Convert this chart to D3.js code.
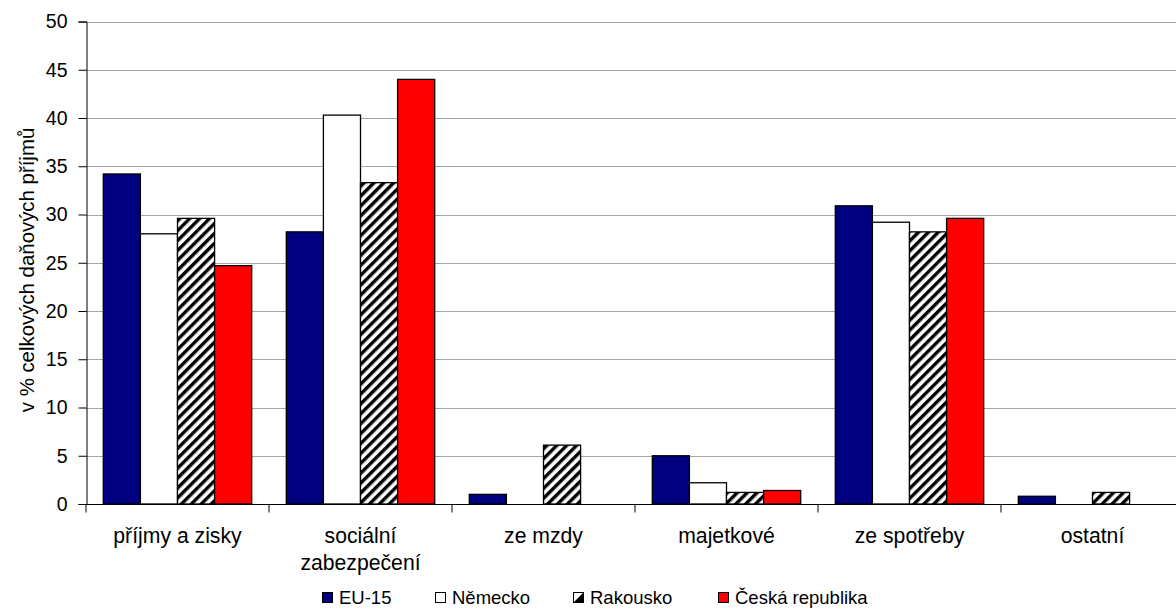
<!DOCTYPE html>
<html><head><meta charset="utf-8">
<script src="https://cdn.jsdelivr.net/npm/d3@7"></script>
<style>body{margin:0;background:#fff}svg{display:block}text{font-family:"Liberation Sans",Arial,sans-serif;fill:#000}</style>
</head><body><svg id="c" width="1176" height="609"></svg>
<script>
const categories = [["příjmy a zisky"],["sociální","zabezpečení"],["ze mzdy"],["majetkové"],["ze spotřeby"],["ostatní"]];
const seriesNames = ["EU-15","Německo","Rakousko","Česká republika"];
const eu15 = [34.2, 28.2, 1.0, 5.0, 30.9, 0.8];
const nemecko = [28.0, 40.3, 0, 2.2, 29.2, 0];
const rakousko = [29.6, 33.3, 6.1, 1.2, 28.2, 1.2];
const cr = [24.7, 44.0, 0, 1.4, 29.6, 0];
const yTicks = [0,5,10,15,20,25,30,35,40,45,50];
const seriesValues = [eu15, nemecko, rakousko, cr];
const fills = ["#000080","#ffffff","url(#hatch)","#ff0000"];
const FS_TICK = "19.5px", FS_LEG = "18.5px", FS_LAB = "21.2px", FS_TITLE = "20.4px";

const svg = d3.select("#c");
const defs = svg.append("defs");
const pat = defs.append("pattern").attr("id","hatch").attr("patternUnits","userSpaceOnUse")
  .attr("width",7).attr("height",7).attr("patternTransform","rotate(45)");
pat.append("rect").attr("width",7).attr("height",7).attr("fill","#fff");
pat.append("rect").attr("width",3.4).attr("height",7).attr("fill","#000");

const pL = 86, pR = 1184, pT = 21.5, pB = 504;
const x = d3.scaleBand().domain(d3.range(categories.length)).range([pL,pR]).paddingInner(0).paddingOuter(0);
const y = d3.scaleLinear().domain([0,50]).range([pB, pT]);
const inner = d3.scaleBand().domain(d3.range(seriesNames.length)).range([17.3, x.bandwidth()-17.3]);

// gridlines
svg.append("g").selectAll("line").data(yTicks.filter(t=>t>0)).join("line")
  .attr("x1",pL).attr("x2",pR).attr("y1",d=>Math.round(y(d))+0.5).attr("y2",d=>Math.round(y(d))+0.5)
  .attr("stroke","#a6a6a6").attr("stroke-width",1);

// bars
seriesValues.forEach((vals,si)=>{
  svg.append("g").selectAll("rect").data(vals.map((v,i)=>({v,i})).filter(d=>d.v>0)).join("rect")
    .attr("x",d=>x(d.i)+inner(si)).attr("width",inner.bandwidth())
    .attr("y",d=>y(d.v)).attr("height",d=>pB-y(d.v))
    .attr("fill",fills[si]).attr("stroke","#000").attr("stroke-width",1.3);
});

// y axis
const ya = svg.append("g").attr("transform",`translate(${pL+0.5},0)`)
  .call(d3.axisLeft(y).tickValues(yTicks).tickSize(8).tickPadding(11));
ya.select(".domain").attr("stroke","#000");
ya.selectAll("text").style("font-size",FS_TICK).attr("font-family","Liberation Sans, Arial").attr("fill","#000");
// x axis
const xa = svg.append("g").attr("transform",`translate(0,${pB+0.5})`);
xa.append("line").attr("x1",pL).attr("x2",pR).attr("stroke","#000");
xa.selectAll("line.t").data(d3.range(categories.length+1)).join("line").attr("class","t")
  .attr("x1",d=>pL+d*x.bandwidth()).attr("x2",d=>pL+d*x.bandwidth()).attr("y1",0).attr("y2",8).attr("stroke","#000");
const lab = svg.append("g").selectAll("text").data(categories).join("text")
  .attr("text-anchor","middle").style("font-size",FS_LAB);
lab.each(function(lines,i){
  const t=d3.select(this);
  lines.forEach((l,j)=>t.append("tspan").attr("x",x(i)+x.bandwidth()/2).attr("y",543+j*27).text(l));
});

// y title
svg.append("text").attr("transform","translate(34,270) rotate(-90)").attr("text-anchor","middle")
  .style("font-size",FS_TITLE).text("v % celkových daňových příjmů");

// legend
const legX = [322,435,573,718];
const lg = svg.append("g").selectAll("g").data(seriesNames).join("g")
  .attr("transform",(d,i)=>`translate(${legX[i]},592)`);
lg.append("rect").attr("width",10).attr("height",10).attr("x",0.5).attr("y",0.5)
  .attr("fill",(d,i)=>i===2?"#fff":fills[i]).attr("stroke","#000").attr("stroke-width",1);
lg.filter((d,i)=>i===2).append("path").attr("d","M10.5,0.5 L10.5,10.5 L0.5,10.5 Z").attr("fill","#000");
lg.append("text").attr("x",17).attr("y",11.5).style("font-size",FS_LEG).text(d=>d);
</script></body></html>
